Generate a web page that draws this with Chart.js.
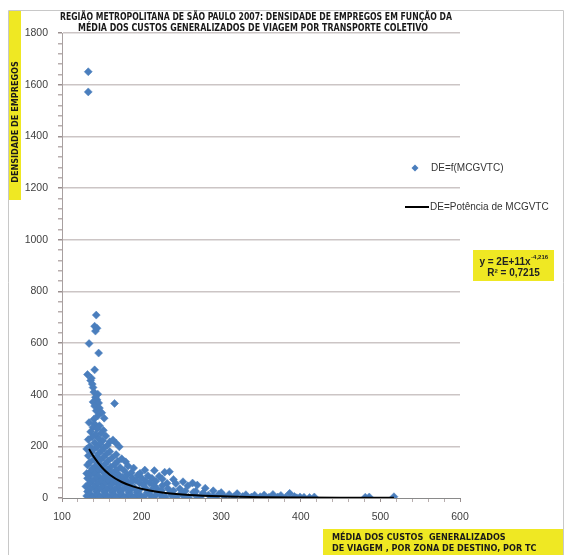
<!DOCTYPE html>
<html>
<head>
<meta charset="utf-8">
<script src="https://cdn.jsdelivr.net/npm/chart.js@4.4.1/dist/chart.umd.min.js"></script>
<style>
  html, body { margin: 0; padding: 0; background: #fff; }
</style>
</head>
<body>
<canvas id="chart" width="568" height="555"></canvas>
<script>
// cost (x) and job density (y) of each zone
const costX = [
  133, 133, 143, 141, 144, 142, 134, 146, 141, 132, 137, 136, 138, 139,
  140, 145, 142, 144, 139, 146, 141, 147, 143, 150, 153, 166, 145, 140,
  134, 141, 147, 139, 144, 152, 136, 149, 142, 155, 138, 146, 133, 151, 160, 141, 148, 157, 135, 144, 164, 168, 172, 153,
  131, 139, 150, 160, 137, 146, 156, 168, 133, 143, 152, 163, 175, 140, 148, 158, 170, 180, 135, 145, 154, 166, 183, 132,
  142, 150, 161, 173, 190, 138, 147, 157, 168, 178, 204, 216, 229, 235, 136, 144, 152, 163, 187, 198, 131, 141, 159, 171,
  182, 195, 208, 222,
  135, 146, 155, 166, 176, 188, 200, 213, 226, 240, 132, 142, 151, 161, 171, 181, 193, 205, 218, 252, 264, 138, 148, 157,
  167, 177, 187, 197, 210, 232, 243, 270, 134, 144, 153, 162, 172, 183, 202, 215, 226, 258,
  130, 140, 150, 160, 170, 180, 191, 205, 219, 233, 248, 280, 136, 146, 156, 166, 176, 186, 197, 212, 225, 240, 255, 268,
  290, 132, 143, 153, 163, 173, 184, 194, 207, 220, 236, 250, 277, 300, 265,
  135, 145, 155, 165, 175, 186, 198, 211, 224, 238, 252, 268, 284, 297, 310, 320, 331, 342, 354, 365, 375, 386, 131, 141,
  151, 161, 171, 181, 192, 203, 216, 230, 244, 259, 274, 289, 304, 316, 327, 338, 349, 360, 371, 381, 392, 399, 404, 411,
  417, 481, 486, 517, 138, 148, 158, 168, 178, 189, 200, 213, 226, 240, 255, 292, 334, 356, 395
];
const densY = [
  1650, 1572, 708, 665, 657, 646, 598, 561, 496, 478, 464, 455, 441, 428,
  410, 402, 390, 380, 372, 368, 356, 348, 338, 330, 309, 366, 318, 305,
  292, 286, 280, 274, 268, 262, 256, 251, 246, 240, 236, 230, 226, 222, 218, 214, 208, 204, 200, 196, 225, 212, 198, 194,
  190, 186, 184, 180, 176, 172, 170, 168, 164, 160, 158, 156, 152, 150, 146, 144, 142, 140, 138, 134, 132, 130, 124, 128,
  124, 122, 120, 118, 116, 114, 112, 110, 108, 106, 108, 106, 100, 102, 104, 102, 100, 98, 98, 96, 95, 94, 92, 91,
  90, 88, 86, 84,
  86, 85, 83, 82, 80, 78, 77, 76, 74, 72, 76, 75, 73, 72, 70, 69, 68, 66, 65, 63, 58, 66, 64, 63,
  62, 61, 60, 59, 58, 57, 56, 50, 55, 54, 53, 52, 51, 50, 50, 49, 48, 47,
  45, 44, 43, 42, 41, 40, 40, 39, 38, 37, 36, 38, 35, 34, 33, 33, 32, 31, 30, 30, 29, 28, 27, 26,
  28, 25, 25, 24, 23, 23, 22, 22, 21, 20, 20, 19, 19, 21, 22,
  16, 15, 15, 14, 14, 13, 13, 12, 12, 11, 11, 10, 12, 15, 14, 17, 13, 11, 12, 14, 10, 18, 8, 8,
  7, 7, 6, 6, 5, 5, 5, 4, 4, 3, 4, 5, 6, 5, 6, 4, 5, 3, 4, 3, 6, 4, 3, 2,
  4, 3, 4, 5, 2, 2, 1, 2, 1, 2, 1, 2, 1, 1, 1, 2, 1, 2, 1
];

// power trend line as drawn (DE = 2E+11 x^-4,216)
const trendX = [134, 140, 150, 160, 175, 190, 210, 230, 260, 300, 350, 400, 450, 517];
const trendY = [190, 159, 119, 90, 62, 44, 29, 19.6, 11.7, 6.4, 3.3, 1.9, 1.15, 0.65];

const xTicks = { min: 100, max: 600, major: 100, minor: 20 };
const yTicks = { min: 0, max: 1800, major: 200, minor: 40 };

const titleLines = [
  "REGIÃO METROPOLITANA DE SÃO PAULO 2007: DENSIDADE DE EMPREGOS EM FUNÇÃO DA",
  "MÉDIA DOS CUSTOS GENERALIZADOS DE VIAGEM POR TRANSPORTE COLETIVO"
];
const yTitle = "DENSIDADE DE EMPREGOS";
const xTitle = ["MÉDIA DOS CUSTOS  GENERALIZADOS", "DE VIAGEM , POR ZONA DE DESTINO, POR TC"];
const legendLabels = ["DE=f(MCGVTC)", "DE=Potência de MCGVTC"];

const blue = "#4a7ebd";
const yellow = "#efe823";
const boldNarrow = "'Liberation Sans Narrow', 'DejaVu Sans Condensed', 'Liberation Sans', sans-serif";

const points = costX.map((x, i) => ({ x: x, y: densY[i] }));
const trend = trendX.map((x, i) => ({ x: x, y: trendY[i] }));

// frame, yellow labels, title, legend and equation
const decor = {
  id: "decor",
  afterDraw(chart) {
    const ctx = chart.ctx;
    ctx.save();

    // outer frame
    ctx.strokeStyle = "#c8c8c8";
    ctx.lineWidth = 1;
    ctx.beginPath();
    ctx.moveTo(8.5, 555);
    ctx.lineTo(8.5, 10.5);
    ctx.lineTo(563.5, 10.5);
    ctx.lineTo(563.5, 555);
    ctx.stroke();

    // title
    ctx.fillStyle = "#1a1a1a";
    ctx.font = "bold 10px " + boldNarrow;
    ctx.textAlign = "center";
    ctx.textBaseline = "middle";
    ctx.fillText(titleLines[0], 256, 17, 392);
    ctx.fillText(titleLines[1], 253, 28, 350);

    // y title in yellow strip
    ctx.fillStyle = yellow;
    ctx.fillRect(9, 11, 12, 189);
    ctx.save();
    ctx.translate(15.5, 122);
    ctx.rotate(-Math.PI / 2);
    ctx.fillStyle = "#1a1a1a";
    ctx.font = "bold 9px " + boldNarrow;
    ctx.fillText(yTitle, 0, 0, 135);
    ctx.restore();

    // x title box
    ctx.fillStyle = yellow;
    ctx.fillRect(323, 529, 240, 26);
    ctx.fillStyle = "#1a1a1a";
    ctx.textAlign = "left";
    ctx.font = "bold 9px " + boldNarrow;
    ctx.fillText(xTitle[0], 332, 538, 190);
    ctx.fillText(xTitle[1], 332, 549, 208);

    // legend
    ctx.font = "10px 'Liberation Sans', Arial, sans-serif";
    ctx.fillStyle = blue;
    ctx.beginPath();
    ctx.moveTo(415, 164.5);
    ctx.lineTo(418.5, 168);
    ctx.lineTo(415, 171.5);
    ctx.lineTo(411.5, 168);
    ctx.closePath();
    ctx.fill();
    ctx.fillStyle = "#333";
    ctx.fillText(legendLabels[0], 431, 168);
    ctx.strokeStyle = "#000";
    ctx.lineWidth = 2;
    ctx.beginPath();
    ctx.moveTo(405, 207);
    ctx.lineTo(429, 207);
    ctx.stroke();
    ctx.fillText(legendLabels[1], 430, 207, 124);

    // equation box
    ctx.fillStyle = yellow;
    ctx.fillRect(473, 250, 81, 31);
    ctx.fillStyle = "#222";
    const eqFont = "bold 10px 'Liberation Sans', Arial, sans-serif";
    const supFont = "bold 6px 'Liberation Sans', Arial, sans-serif";
    const base = "y = 2E+11x";
    const sup = "-4,216";
    ctx.font = eqFont;
    const wBase = ctx.measureText(base).width;
    ctx.font = supFont;
    const wSup = ctx.measureText(sup).width;
    const sx = 513.5 - (wBase + wSup) / 2;
    ctx.font = eqFont;
    ctx.fillText(base, sx, 262);
    ctx.font = supFont;
    ctx.fillText(sup, sx + wBase + 0.5, 257.5);
    ctx.font = eqFont;
    ctx.textAlign = "center";
    ctx.fillText("R² = 0,7215", 513.5, 273.5);

    ctx.restore();
  }
};

const tickFont = { family: "'Liberation Sans', Arial, sans-serif", size: 10.5 };

new Chart(document.getElementById("chart"), {
  type: "scatter",
  data: {
    datasets: [
      {
        label: legendLabels[1],
        type: "line",
        data: trend,
        borderColor: "#000",
        borderWidth: 2,
        pointRadius: 0,
        cubicInterpolationMode: "monotone",
        fill: false
      },
      {
        label: legendLabels[0],
        data: points,
        pointStyle: "rectRot",
        pointRadius: 4,
        backgroundColor: blue,
        borderColor: blue,
        borderWidth: 0.5
      }
    ]
  },
  options: {
    responsive: false,
    animation: false,
    layout: { padding: { top: 33, right: 108, left: 0, bottom: 0 } },
    plugins: { legend: { display: false }, tooltip: { enabled: false } },
    scales: {
      x: {
        type: "linear",
        min: xTicks.min,
        max: xTicks.max,
        afterFit: s => { s.height = 57; },
        border: { color: "#8a8a8a", width: 1 },
        grid: {
          drawOnChartArea: false,
          tickLength: 4,
          tickColor: c => c.tick && c.tick.value % xTicks.major === 0 ? "#9a8f8f" : "#b8aeae"
        },
        ticks: {
          stepSize: xTicks.minor,
          autoSkip: false,
          maxRotation: 0,
          padding: 9,
          color: "#404040",
          font: tickFont,
          callback: v => v % xTicks.major === 0 ? v : ""
        }
      },
      y: {
        min: yTicks.min,
        max: yTicks.max,
        afterFit: s => { s.width = 62; },
        border: { color: "#a8a0a0", width: 1 },
        grid: {
          color: c => c.tick && c.tick.value % yTicks.major === 0 && c.tick.value > 0 ? "#ccc5c5" : "rgba(0,0,0,0)",
          lineWidth: 1.5,
          tickLength: 4,
          tickColor: c => c.tick && c.tick.value % yTicks.major === 0 ? "#9a8f8f" : "#b8aeae"
        },
        ticks: {
          stepSize: yTicks.minor,
          autoSkip: false,
          padding: 10,
          color: "#404040",
          font: tickFont,
          callback: v => v % yTicks.major === 0 ? v : ""
        }
      }
    }
  },
  plugins: [decor]
});
</script>
</body>
</html>
